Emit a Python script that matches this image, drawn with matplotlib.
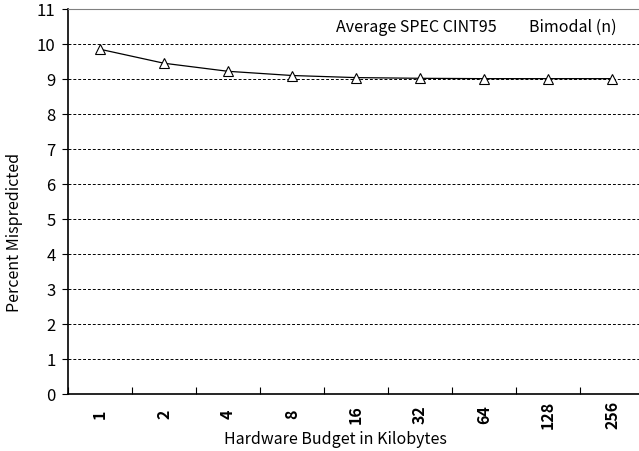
import numpy as np
import matplotlib.pyplot as plt

plt.rcParams['font.family'] = ['Noto Sans CJK JP', 'DejaVu Sans']

budgets = ['1', '2', '4', '8', '16', '32', '64', '128', '256']
mispredict = [9.85, 9.45, 9.22, 9.10, 9.04, 9.02, 9.01, 9.01, 9.01]

fig = plt.figure(figsize=(6.39, 4.52), dpi=100)
ax = fig.add_axes([68/639, 57/452, 576/639, 385/452])

x = np.arange(len(budgets))
ax.plot(x, mispredict, color='black', lw=0.9, marker='^', markersize=7,
        markerfacecolor='white', markeredgecolor='black', markeredgewidth=0.8)

ax.set_xlim(-0.5, len(budgets) - 0.5)
ax.set_ylim(0, 11)
ax.set_yticks(range(0, 12))
ax.yaxis.grid(True, linestyle=(0, (3, 2)), color='black', lw=0.7)
ax.set_axisbelow(True)

ax.set_xticks(x)
ax.set_xticklabels(budgets, rotation=90, fontsize=11.5, fontweight='bold', va='center')
ax.set_xticks(np.arange(len(budgets) + 1) - 0.5, minor=True)
ax.tick_params(axis='x', which='major', length=0, pad=14)
ax.tick_params(axis='x', which='minor', direction='in', length=5, width=0.8)
ax.tick_params(axis='y', direction='out', length=4, width=0.8, labelsize=12, pad=5)

ax.spines['right'].set_visible(False)
ax.spines['top'].set_color('gray')
ax.spines['left'].set_linewidth(1.2)
ax.spines['bottom'].set_linewidth(1.2)

fig.text(335/639, 1 - 440/452, 'Hardware Budget in Kilobytes', ha='center', va='center', fontsize=11.5)
fig.text(15/639, 1 - 232/452, 'Percent Mispredicted', ha='center', va='center', rotation=90, fontsize=11.5)

fig.text(416/639, 1 - 28/452, 'Average SPEC CINT95', ha='center', va='center', fontsize=11.5)
fig.text(573/639, 1 - 27/452, 'Bimodal (n)', ha='center', va='center', fontsize=11.5)

fig.savefig('out.png', dpi=100)
